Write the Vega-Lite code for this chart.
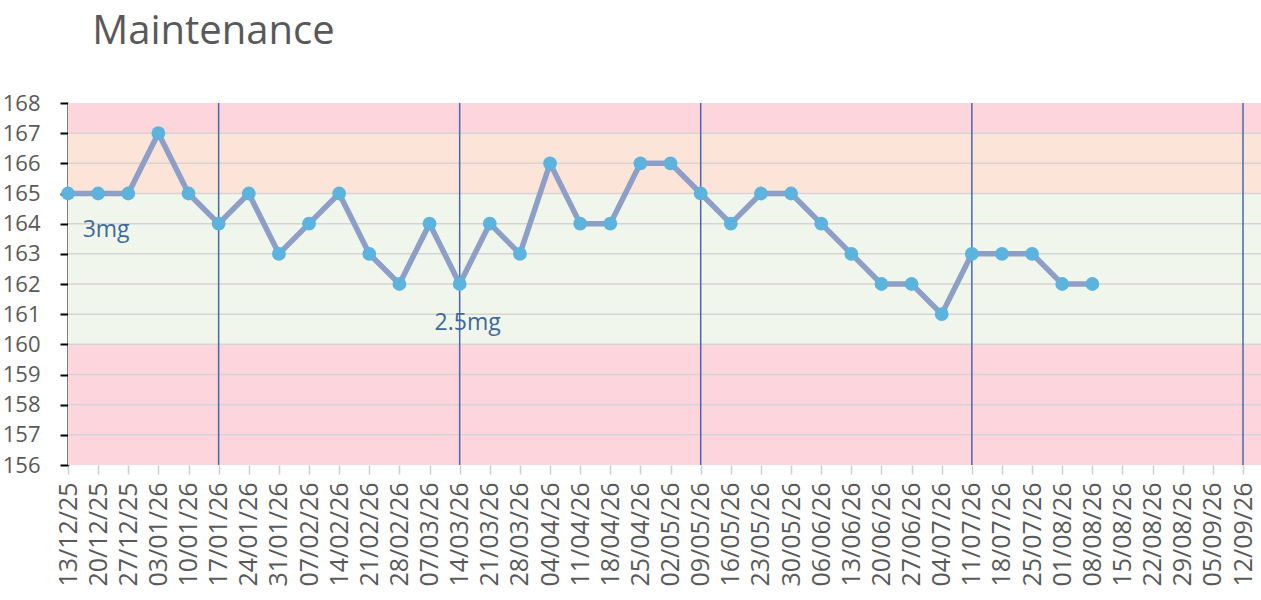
{
  "$schema": "https://vega.github.io/schema/vega-lite/v6.json",
  "width": 1193,
  "height": 362,
  "autosize": {"type": "none"},
  "padding": {"left": 68, "top": 103, "right": 0, "bottom": 135},
  "title": {
    "text": "Maintenance",
    "anchor": "start",
    "dx": 90,
    "offset": 0,
    "baseline": "bottom"
  },
  "datasets": {
    "weights": [
      {"week": "13/12/25", "weight": 165},
      {"week": "20/12/25", "weight": 165},
      {"week": "27/12/25", "weight": 165},
      {"week": "03/01/26", "weight": 167},
      {"week": "10/01/26", "weight": 165},
      {"week": "17/01/26", "weight": 164},
      {"week": "24/01/26", "weight": 165},
      {"week": "31/01/26", "weight": 163},
      {"week": "07/02/26", "weight": 164},
      {"week": "14/02/26", "weight": 165},
      {"week": "21/02/26", "weight": 163},
      {"week": "28/02/26", "weight": 162},
      {"week": "07/03/26", "weight": 164},
      {"week": "14/03/26", "weight": 162},
      {"week": "21/03/26", "weight": 164},
      {"week": "28/03/26", "weight": 163},
      {"week": "04/04/26", "weight": 166},
      {"week": "11/04/26", "weight": 164},
      {"week": "18/04/26", "weight": 164},
      {"week": "25/04/26", "weight": 166},
      {"week": "02/05/26", "weight": 166},
      {"week": "09/05/26", "weight": 165},
      {"week": "16/05/26", "weight": 164},
      {"week": "23/05/26", "weight": 165},
      {"week": "30/05/26", "weight": 165},
      {"week": "06/06/26", "weight": 164},
      {"week": "13/06/26", "weight": 163},
      {"week": "20/06/26", "weight": 162},
      {"week": "27/06/26", "weight": 162},
      {"week": "04/07/26", "weight": 161},
      {"week": "11/07/26", "weight": 163},
      {"week": "18/07/26", "weight": 163},
      {"week": "25/07/26", "weight": 163},
      {"week": "01/08/26", "weight": 162},
      {"week": "08/08/26", "weight": 162}
    ],
    "bands": [
      {"zone": "low", "lo": 156, "hi": 160},
      {"zone": "target", "lo": 160, "hi": 165},
      {"zone": "over", "lo": 165, "hi": 167},
      {"zone": "high", "lo": 167, "hi": 168}
    ],
    "grid": [
      {"g": 157}, {"g": 158}, {"g": 159}, {"g": 160}, {"g": 161}, {"g": 162},
      {"g": 163}, {"g": 164}, {"g": 165}, {"g": 166}, {"g": 167}
    ],
    "doses": [
      {"week": "17/01/26"},
      {"week": "14/03/26"},
      {"week": "09/05/26"},
      {"week": "11/07/26"},
      {"week": "12/09/26"}
    ],
    "notes": [
      {"week": "20/12/25", "weight": 163.8, "note": "3mg"},
      {"week": "14/03/26", "weight": 160.7, "note": "2.5mg"}
    ]
  },
  "layer": [
    {
      "data": {"name": "bands"},
      "mark": "rect",
      "encoding": {
        "y": {"field": "lo", "type": "quantitative", "title": null,
              "scale": {"domain": [156, 168], "nice": false, "zero": false}},
        "y2": {"field": "hi"},
        "color": {
          "field": "zone", "type": "nominal", "legend": null,
          "scale": {"domain": ["low", "target", "over", "high"],
                    "range": ["#fdd5dc", "#f1f6ec", "#fce5d8", "#fdd5dc"]}
        }
      }
    },
    {
      "data": {"name": "grid"},
      "mark": {"type": "rule", "color": "#d6d3d3", "strokeWidth": 1.5},
      "encoding": {
        "y": {"field": "g", "type": "quantitative", "title": null}
      }
    },
    {
      "data": {"name": "doses"},
      "mark": {"type": "rule", "color": "#4a66ac", "strokeWidth": 1.5},
      "encoding": {
        "x": {"field": "week", "type": "ordinal", "title": null}
      }
    },
    {
      "data": {"name": "weights"},
      "mark": {"type": "line", "color": "#8d9fc6", "strokeWidth": 5.5},
      "encoding": {
        "x": {
          "field": "week", "type": "ordinal", "title": null, "sort": null,
          "scale": {
            "domain": ["13/12/25","20/12/25","27/12/25","03/01/26","10/01/26","17/01/26","24/01/26","31/01/26","07/02/26","14/02/26","21/02/26","28/02/26","07/03/26","14/03/26","21/03/26","28/03/26","04/04/26","11/04/26","18/04/26","25/04/26","02/05/26","09/05/26","16/05/26","23/05/26","30/05/26","06/06/26","13/06/26","20/06/26","27/06/26","04/07/26","11/07/26","18/07/26","25/07/26","01/08/26","08/08/26","15/08/26","22/08/26","29/08/26","05/09/26","12/09/26"],
            "type": "point", "padding": 0, "range": [0, 1175]
          }
        },
        "y": {"field": "weight", "type": "quantitative", "title": null}
      }
    },
    {
      "data": {"name": "weights"},
      "mark": {"type": "circle", "color": "#5bb3de", "opacity": 1, "size": 190},
      "encoding": {
        "x": {"field": "week", "type": "ordinal", "title": null},
        "y": {"field": "weight", "type": "quantitative", "title": null}
      }
    },
    {
      "data": {"name": "notes"},
      "mark": {"type": "text", "font": "Open Sans", "fontSize": 23, "color": "#3d6a9a",
               "align": "center", "baseline": "middle", "dx": 8},
      "encoding": {
        "x": {"field": "week", "type": "ordinal", "title": null},
        "y": {"field": "weight", "type": "quantitative", "title": null},
        "text": {"field": "note"}
      }
    }
  ],
  "config": {
    "view": {"stroke": null},
    "font": "Open Sans",
    "title": {"font": "Open Sans", "fontSize": 40, "fontWeight": "normal", "color": "#595959"},
    "axisY": {
      "grid": false,
      "tickCount": 12,
      "domainColor": "#000000",
      "domainWidth": 2,
      "tickColor": "#000000",
      "tickWidth": 2,
      "tickSize": 8,
      "labelFont": "Open Sans",
      "labelFontSize": 22,
      "labelColor": "#595959",
      "labelPadding": 20
    },
    "axisX": {
      "grid": false,
      "domain": false,
      "tickColor": "#cfcfcf",
      "tickWidth": 1.5,
      "tickSize": 9,
      "labelAngle": 270,
      "labelFont": "Open Sans",
      "labelFontSize": 25,
      "labelColor": "#595959",
      "labelPadding": 8,
      "labelOverlap": false
    }
  }
}
